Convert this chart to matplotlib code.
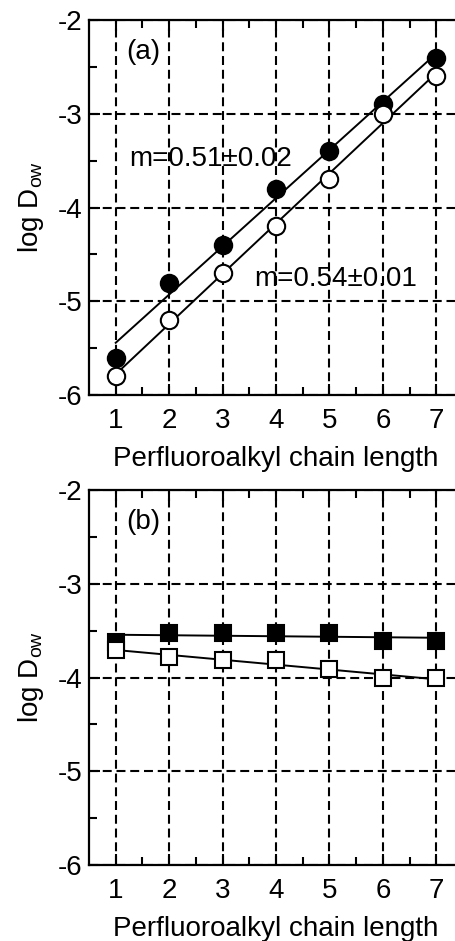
import numpy as np
import matplotlib
matplotlib.use("Agg")
import matplotlib.pyplot as plt

plt.rcParams["font.family"] = ["Liberation Sans", "DejaVu Sans"]
plt.rcParams["axes.unicode_minus"] = False
plt.rcParams["mathtext.fontset"] = "custom"
plt.rcParams["mathtext.rm"] = "Liberation Sans"

# chain length
n = np.array([1, 2, 3, 4, 5, 6, 7])

# panel (a): circles
a_filled = np.array([-5.6, -4.8, -4.4, -3.8, -3.4, -2.9, -2.4])
a_open = np.array([-5.8, -5.2, -4.7, -4.2, -3.7, -3.0, -2.6])

# panel (b): squares
b_filled = np.array([-3.62, -3.52, -3.52, -3.52, -3.52, -3.61, -3.61])
b_open = np.array([-3.71, -3.78, -3.81, -3.81, -3.91, -4.01, -4.01])

yticks = [-6, -5, -4, -3, -2]
ytick_labels = ["-6", "-5", "-4", "-3", "-2"]

FS = 20
W, H = 455, 941
fig = plt.figure(figsize=(W / 100, H / 100), dpi=100)

left = 89 / W
width = (463 - 89) / W
ax_a = fig.add_axes([left, 1 - 395 / H, width, (395 - 20) / H])
ax_b = fig.add_axes([left, 1 - 865 / H, width, (865 - 490) / H])


def style(ax, label):
    ax.set_xlim(0.5, 7.5)
    ax.set_ylim(-6, -2)
    ax.set_xticks(n)
    ax.set_xticks(np.arange(1.5, 7.5, 1.0), minor=True)
    ax.set_yticks(yticks)
    ax.set_yticklabels(ytick_labels)
    ax.set_yticks(np.arange(-5.5, -2, 1.0), minor=True)
    ax.grid(True, which="major", color="black", linestyle=(0, (4.3, 2.3)), lw=1.5)
    ax.tick_params(which="both", direction="in", top=True, right=False,
                   width=1.5, labelsize=FS, pad=5, colors="black")
    ax.tick_params(axis="x", which="both", pad=9)
    ax.tick_params(which="major", length=8)
    ax.tick_params(which="minor", length=6)
    for s in ax.spines.values():
        s.set_linewidth(1.6)
    ax.set_xlabel("Perfluoroalkyl chain length", fontsize=FS, labelpad=9)
    ax.set_ylabel(r"log D$_{\rm ow}$", fontsize=FS, labelpad=8)
    ax.text(1.2, -2.34, label, fontsize=FS, va="center", ha="left")
    ax.set_axisbelow(True)


def fit_line(ax, x, y):
    m, c = np.polyfit(x, y, 1)
    ax.plot(x, m * x + c, color="black", lw=1.4, zorder=2)
    return m


# panel (a)
style(ax_a, "(a)")
fit_line(ax_a, n, a_filled)
fit_line(ax_a, n, a_open)
ax_a.plot(n, a_filled, "o", ms=12.5, mfc="black", mec="black", mew=1.5, zorder=3, clip_on=False)
ax_a.plot(n, a_open, "o", ms=12.5, mfc="white", mec="black", mew=1.5, zorder=3, clip_on=False)
ax_a.text(1.25, -3.48, "m=0.51\u00b10.02", fontsize=FS, va="center", ha="left")
ax_a.text(3.6, -4.76, "m=0.54\u00b10.01", fontsize=FS, va="center", ha="left")

# panel (b)
style(ax_b, "(b)")
fit_line(ax_b, n, b_filled)
fit_line(ax_b, n, b_open)
ax_b.plot(n, b_filled, "s", ms=12, mfc="black", mec="black", mew=1.5, zorder=3, clip_on=False)
ax_b.plot(n, b_open, "s", ms=12, mfc="white", mec="black", mew=1.5, zorder=3, clip_on=False)

fig.savefig("out.png", dpi=100)
